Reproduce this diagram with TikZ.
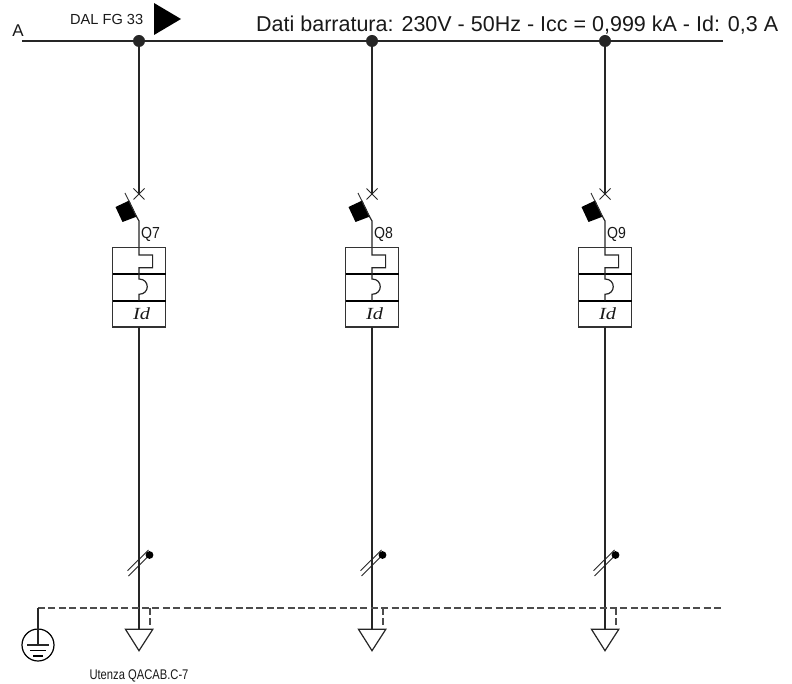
\documentclass[tikz,border=0pt]{standalone}
\usepackage{fontspec}
\setmainfont{Liberation Sans}
\newfontfamily\idfont{Liberation Serif}
\tikzset{
  wire/.style={line width=1.2pt,draw=black!85},
  thick wire/.style={line width=1.9pt,draw=black},
  dashwire/.style={line width=1.6pt,draw=black!70,dash pattern=on 7pt off 3.4pt},
  lbl/.style={inner sep=0pt,text=black!90},
}
\newcommand{\feeder}[2]{%
\begin{scope}[shift={(#1,0)}]
  \coordinate (j#2) at (0,41);
  \coordinate (c#2) at (0,194);
  \coordinate (s#2) at (0,221);
  \coordinate (boxtop#2) at (0,247.7);
  \coordinate (load#2) at (0,629.3);
  \draw[wire] (j#2) -- (c#2);
  \draw[line width=1pt,draw=black!85] (-5.5,188.5) -- (5.5,199.5) (-5.5,199.5) -- (5.5,188.5);
  \fill[black] (-23.5,207) -- (-9.7,200.5) -- (-2,216.5) -- (-16.5,222) -- cycle;
  \draw[line width=0.9pt,draw=black!80] (-14,193) -- (-2.8,216);
  \draw[wire] (-2.8,216) -- (s#2) -- (boxtop#2);
  \node[lbl,anchor=west,font=\fontsize{16}{16}\selectfont,xscale=0.88] (q#2) at (2,234) {Q#2};
  \draw[line width=1.3pt,draw=black!80] (-26.3,247.7) rectangle (26.5,327);
  \draw[thick wire] (-26.3,274) -- (26.5,274) (-26.3,300.7) -- (26.5,300.7);
  \draw[wire] (boxtop#2) -- (0,255) -- (13.6,255) -- (13.6,267.7) -- (0,267.7) -- (0,274) -- (0,279)
     .. controls (11,279) and (11,294.3) .. (0,294.3) -- (0,300.7);
  \node[lbl,font=\fontsize{17}{17}\selectfont\idfont\itshape,xscale=1.2] (id#2) at (2.5,313.5) {Id};
  \draw[wire] (0,327) -- (load#2);
  \draw[line width=0.9pt,draw=black!85] (-11.5,570.7) -- (9.5,550) (-10.5,576) -- (10.5,555);
  \fill[black] (10.5,555) circle (3.9pt);
  \draw[dashwire] (11,607.7) -- (11,629.3);
  \draw[wire] (-13.5,629.3) -- (13.8,629.3) -- (0,650.7) -- cycle;
  \fill[black!85] (j#2) circle (6pt);
\end{scope}}
\begin{document}
\begin{tikzpicture}[x=1pt,y=-1pt]
  \useasboundingbox (0,0) rectangle (792,684);
  \fill[white] (0,0) rectangle (792,684);
  \coordinate (busL) at (22,41);
  \coordinate (busR) at (723,41);
  \draw[wire] (busL) -- (busR);
  \feeder{139}{7}
  \feeder{372}{8}
  \feeder{605}{9}
  \node[lbl,font=\fontsize{17}{17}\selectfont] (A) at (18,31) {A};
  \node[lbl,font=\fontsize{14.6}{14.6}\selectfont,anchor=west] (dal) at (70,19.5) {DAL FG 33};
  \fill[black] (154,3) -- (154,35) -- (181,19) -- cycle;
  \node[lbl,font=\fontsize{21.5}{21.5}\selectfont,anchor=west] (dati) at (256,25) {Dati barratura: 230V - 50Hz - Icc = 0,999 kA - Id: 0,3 A};
  \coordinate (peL) at (38,608);
  \coordinate (peR) at (724,608);
  \draw[dashwire] (peL) -- (peR);
  \node[circle,draw=black,line width=1.2pt,minimum size=32pt,inner sep=0pt] (earth) at (38,645) {};
  \draw[wire] (38,608) -- (38,645);
  \draw[wire] (27,645) -- (49,645);
  \draw[line width=1.4pt] (30,650.5) -- (46,650.5);
  \draw[line width=1.4pt] (33,656) -- (43,656);
  \node[lbl,font=\fontsize{14}{14}\selectfont,xscale=0.8] (ut) at (139,676) {Utenza QACAB.C-7};
\end{tikzpicture}
\end{document}
